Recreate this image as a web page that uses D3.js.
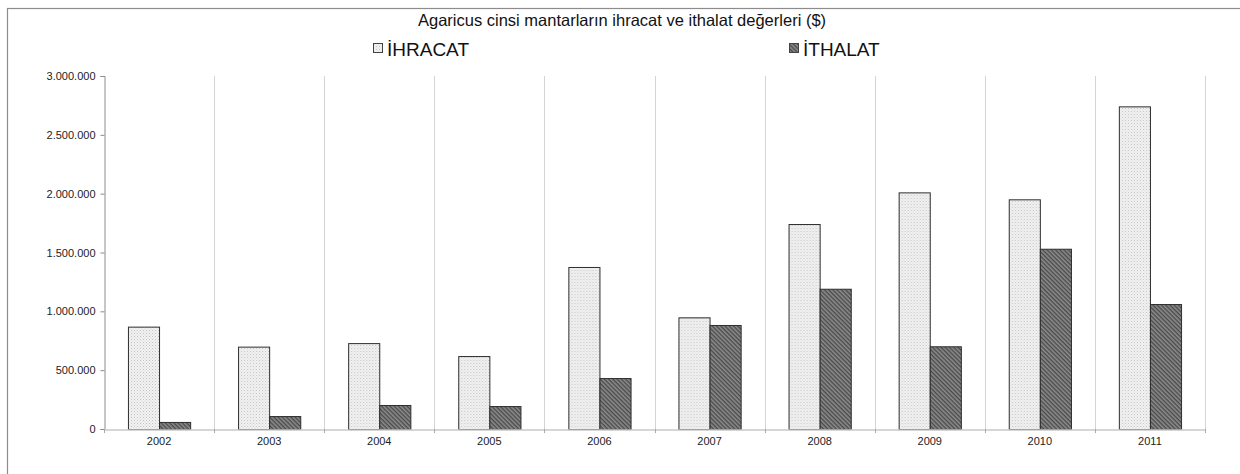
<!DOCTYPE html>
<html>
<head>
<meta charset="utf-8">
<script src="https://cdn.jsdelivr.net/npm/d3@7"></script>
<style>
  body { margin: 0; background: #fff; }
  svg { display: block; font-family: "Liberation Sans", Arial, sans-serif; }
</style>
</head>
<body>
<div id="chart"></div>
<script>
const years = ["2002", "2003", "2004", "2005", "2006", "2007", "2008", "2009", "2010", "2011"];
const seriesNames = ["İHRACAT", "İTHALAT"];
const ihracat = [870000, 700000, 730000, 620000, 1377000, 949000, 1742000, 2011000, 1952000, 2742000];
const ithalat = [60000, 110000, 204000, 195000, 433000, 884000, 1192000, 703000, 1532000, 1062000];
const yTicks = [0, 500000, 1000000, 1500000, 2000000, 2500000, 3000000];
const title = "Agaricus cinsi mantarların ihracat ve ithalat değerleri ($)";

const width = 1240, height = 474;
const margin = { top: 76, right: 35, bottom: 45, left: 104 };

const data = years.map((y, i) => ({ year: y, values: [ihracat[i], ithalat[i]] }));

const svg = d3.select("#chart").append("svg")
  .attr("width", width)
  .attr("height", height);

// patterns
const defs = svg.append("defs");
const dots = defs.append("pattern")
  .attr("id", "dots")
  .attr("patternUnits", "userSpaceOnUse")
  .attr("width", 3).attr("height", 3);
dots.append("rect").attr("width", 3).attr("height", 3).attr("fill", "#f2f2f2");
dots.append("rect").attr("width", 1).attr("height", 1).attr("fill", "#c2c2c2");
dots.append("rect").attr("x", 1.5).attr("y", 1.5).attr("width", 1).attr("height", 1).attr("fill", "#d4d4d4");

const hatch = defs.append("pattern")
  .attr("id", "hatch")
  .attr("patternUnits", "userSpaceOnUse")
  .attr("width", 3).attr("height", 3)
  .attr("patternTransform", "rotate(45)");
hatch.append("rect").attr("width", 3).attr("height", 3).attr("fill", "#8c8c8c");
hatch.append("rect").attr("width", 3).attr("height", 1.4).attr("fill", "#4a4a4a");

const fills = ["url(#dots)", "url(#hatch)"];

// outer frame
svg.append("rect")
  .attr("x", 7.5).attr("y", 8.5)
  .attr("width", width).attr("height", height)
  .attr("fill", "none")
  .attr("stroke", "#8c8c8c")
  .attr("stroke-width", 1.2);

const x = d3.scaleBand()
  .domain(years)
  .range([margin.left, width - margin.right])
  .padding(0);

const xSub = d3.scaleBand()
  .domain(seriesNames)
  .range([0, x.bandwidth()])
  .paddingInner(0)
  .paddingOuter(0.77);

const y = d3.scaleLinear()
  .domain([0, 3000000])
  .range([height - margin.bottom, margin.top]);

const locale = d3.formatLocale({ decimal: ",", thousands: ".", grouping: [3], currency: ["", "$"] });
const fmt = locale.format(",d");

// vertical gridlines at category boundaries
svg.append("g")
  .selectAll("line")
  .data(d3.range(1, years.length + 1))
  .join("line")
  .attr("x1", i => Math.round(x(years[0]) + x.step() * i) + 0.5)
  .attr("x2", i => Math.round(x(years[0]) + x.step() * i) + 0.5)
  .attr("y1", y(3000000))
  .attr("y2", y(0))
  .attr("stroke", "#d4d4d4")
  .attr("stroke-width", 1);

// y axis
const yAxis = svg.append("g")
  .attr("transform", `translate(${margin.left + 0.5},0)`)
  .call(d3.axisLeft(y).tickValues(yTicks).tickFormat(fmt).tickSize(4).tickPadding(5));
yAxis.select(".domain").attr("stroke", "#8c8c8c");
yAxis.selectAll(".tick line").attr("stroke", "#8c8c8c");
yAxis.selectAll("text").attr("font-size", 11).attr("fill", "#222")
  .attr("font-family", "'Liberation Sans', Arial, sans-serif");

// bars
const groups = svg.append("g")
  .selectAll("g")
  .data(data)
  .join("g")
  .attr("transform", d => `translate(${x(d.year)},0)`);

groups.selectAll("rect")
  .data(d => d.values.map((v, i) => ({ key: seriesNames[i], value: v, i })))
  .join("rect")
  .attr("x", d => xSub(d.key) + 0.5)
  .attr("y", d => y(d.value) + 0.5)
  .attr("width", xSub.bandwidth())
  .attr("height", d => y(0) - y(d.value))
  .attr("fill", d => fills[d.i])
  .attr("stroke", "#2e2e2e")
  .attr("stroke-width", 1);

// x axis
const xAxis = svg.append("g")
  .attr("transform", `translate(0,${y(0) + 0.5})`)
  .call(d3.axisBottom(x).tickSize(0).tickPadding(8));
xAxis.select(".domain").attr("stroke", "#c8c8c8").attr("stroke-width", 1.5);
xAxis.selectAll("text").attr("font-size", 11).attr("fill", "#222")
  .attr("font-family", "'Liberation Sans', Arial, sans-serif");

// boundary tick marks below the x axis
svg.append("g")
  .selectAll("line")
  .data(d3.range(years.length + 1))
  .join("line")
  .attr("x1", i => Math.round(x(years[0]) + x.step() * i) + 0.5)
  .attr("x2", i => Math.round(x(years[0]) + x.step() * i) + 0.5)
  .attr("y1", y(0))
  .attr("y2", y(0) + 4)
  .attr("stroke", "#aaa");

// title
svg.append("text")
  .attr("x", 622)
  .attr("y", 26)
  .attr("text-anchor", "middle")
  .attr("font-size", 16.5)
  .attr("fill", "#111")
  .text(title);

// legend
const legendX = [373, 789];
const legend = svg.append("g")
  .selectAll("g")
  .data(seriesNames)
  .join("g")
  .attr("transform", (d, i) => `translate(${legendX[i]},43)`);
legend.append("rect")
  .attr("x", 0.5).attr("y", 0.5)
  .attr("width", 9).attr("height", 9)
  .attr("fill", (d, i) => fills[i])
  .attr("stroke", "#444");
legend.append("text")
  .attr("x", 14)
  .attr("y", 13)
  .attr("font-size", 19)
  .attr("fill", "#111")
  .text(d => d);
</script>
</body>
</html>
